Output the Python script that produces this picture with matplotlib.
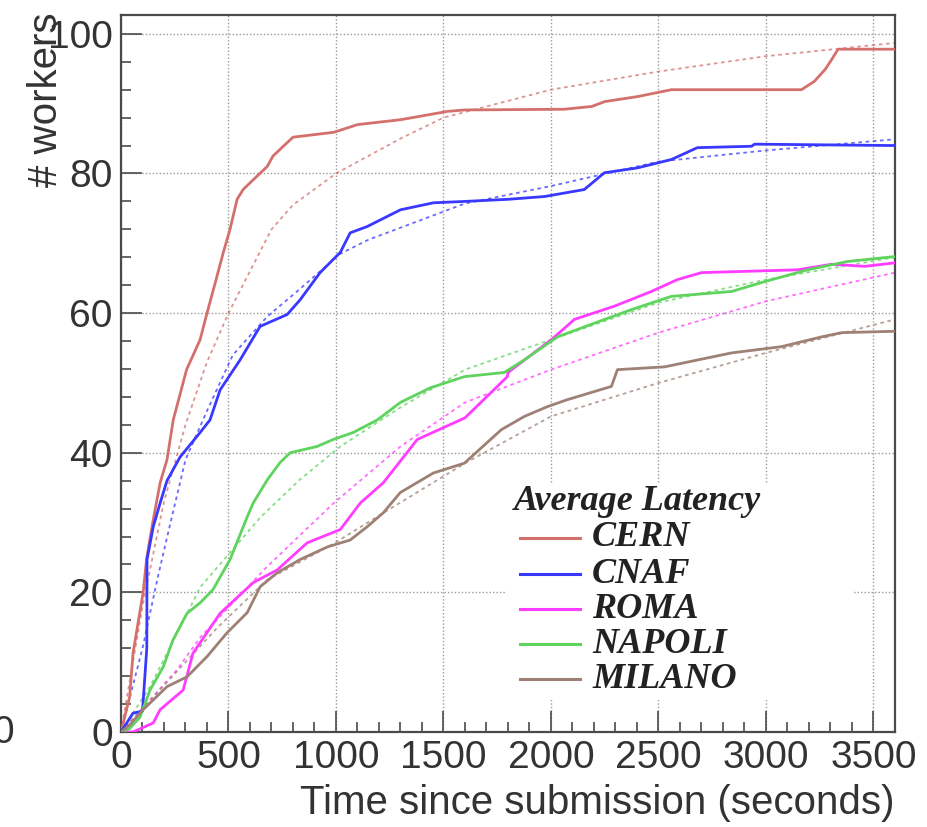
import matplotlib
matplotlib.use('Agg')
import matplotlib.pyplot as plt
from matplotlib.ticker import MultipleLocator, AutoMinorLocator
from matplotlib.lines import Line2D
from matplotlib.patches import Rectangle

# measured curves (time in seconds, number of workers)
cern_t = [0, 40, 56, 103, 120, 150, 182, 214, 243, 305, 368, 400, 430, 476, 507, 540, 568, 615, 680, 707,
          800, 990, 1100, 1300, 1520, 1600, 2060, 2190, 2250, 2400, 2560, 3165, 3225, 3275, 3305, 3335, 3600]
cern_y = [0, 5, 11.3, 20, 25, 30.4, 35.7, 39, 44.7, 51.9, 56.2, 60, 63.4, 68.7, 72, 76.3, 77.7, 79.1, 81, 82.5,
          85.2, 85.9, 87, 87.7, 88.9, 89.1, 89.2, 89.6, 90.3, 91, 92, 92, 93.2, 94.9, 96.3, 97.8, 97.8]

cnaf_t = [0, 56, 100, 120, 121, 150, 182, 214, 275, 368, 414, 461, 554, 647, 773, 833, 926, 1020, 1066, 1145,
          1300, 1453, 1600, 1800, 1970, 2155, 2248, 2402, 2560, 2681, 2933, 2947, 3600]
cnaf_y = [0, 2.7, 3, 12, 24.7, 29.4, 32.8, 36, 39.4, 42.9, 44.7, 49, 53.3, 58.1, 59.8, 61.9, 65.8, 68.7, 71.5, 72.4,
          74.8, 75.8, 76, 76.3, 76.7, 77.7, 80.1, 80.8, 82, 83.7, 83.9, 84.2, 84]

roma_t = [0, 56, 150, 182, 289, 335, 461, 615, 726, 866, 1020, 1113, 1220, 1378, 1600, 1797, 1800, 2002, 2109,
          2295, 2467, 2588, 2700, 3147, 3305, 3459, 3600]
roma_y = [0, 0, 1.3, 3.2, 6, 11.3, 17, 21.4, 23.2, 27.1, 29, 32.8, 35.7, 41.9, 45, 50.9, 51.5, 56.2, 59.1,
          61, 63.1, 64.8, 65.8, 66.2, 67, 66.7, 67.2]

napoli_t = [0, 40, 88, 135, 196, 242, 307, 368, 428, 507, 587, 615, 680, 740, 787, 912, 987, 1080, 1192, 1299,
            1439, 1597, 1783, 1876, 2030, 2188, 2374, 2560, 2840, 2993, 3193, 3380, 3600]
napoli_y = [0, 0.5, 2.1, 6, 9.3, 13.2, 17, 18.5, 20.4, 24.7, 30.8, 32.8, 36.1, 38.6, 40, 40.9, 41.9, 42.9, 44.7, 47.2,
            49.3, 50.9, 51.5, 53.3, 56.6, 58.4, 60.5, 62.4, 63.1, 64.5, 66.2, 67.4, 68.1]

milano_t = [0, 40, 103, 214, 307, 400, 493, 587, 647, 726, 833, 959, 1066, 1145, 1220, 1299, 1453, 1597, 1769,
            1876, 1983, 2076, 2281, 2309, 2528, 2840, 3073, 3259, 3352, 3600]
milano_y = [0, 1, 3.2, 6.5, 7.9, 10.8, 14.2, 17.1, 20.8, 22.8, 24.7, 26.5, 27.5, 29.4, 31.4, 34.3, 37.1, 38.5, 43.3,
            45.2, 46.6, 47.6, 49.5, 51.9, 52.3, 54.3, 55.2, 56.6, 57.2, 57.4]

# fitted curves (dotted)
cern_fit_t = [0, 100, 200, 300, 400, 500, 600, 700, 800, 1000, 1300, 1500, 2000, 2500, 3000, 3600]
cern_fit_y = [0, 18, 33, 44, 53, 60, 66, 72, 75.5, 80, 85, 88, 92, 94.6, 96.8, 98.7]
cnaf_fit_t = [0, 100, 170, 215, 300, 400, 520, 680, 830, 1020, 1150, 1600, 2000, 2500, 3000, 3600]
cnaf_fit_y = [0, 12, 22, 28, 39, 46, 54, 59.5, 63.4, 68.5, 70.5, 75.7, 78.2, 81.7, 83.3, 84.9]
roma_fit_t = [0, 260, 370, 680, 990, 1300, 1600, 2000, 2500, 3000, 3600]
roma_fit_y = [0, 8.9, 13.6, 23.7, 32.8, 40.9, 47.2, 51.9, 57.2, 61.7, 65.8]
napoli_fit_t = [0, 135, 370, 650, 830, 1020, 1300, 1600, 2000, 2500, 3000, 3600]
napoli_fit_y = [0, 6.5, 20.8, 30.8, 36.1, 40.9, 46.5, 51.9, 56.2, 61.5, 64.8, 68]
milano_fit_t = [0, 135, 450, 680, 990, 1200, 1600, 2000, 2500, 3000, 3600]
milano_fit_y = [0, 4.5, 15, 21.8, 27, 31, 38.5, 45.2, 50, 54.3, 59.1]

sites = ['CERN', 'CNAF', 'ROMA', 'NAPOLI', 'MILANO']
colors = ['#d4706c', '#3838ff', '#ff3cff', '#5ed35e', '#9e8074']
curves = [(cern_t, cern_y), (cnaf_t, cnaf_y), (roma_t, roma_y), (napoli_t, napoli_y), (milano_t, milano_y)]
fits = [(cern_fit_t, cern_fit_y), (cnaf_fit_t, cnaf_fit_y), (roma_fit_t, roma_fit_y),
        (napoli_fit_t, napoli_fit_y), (milano_fit_t, milano_fit_y)]

W, H = 928, 827
fig = plt.figure(figsize=(W / 100, H / 100), dpi=100)
ax = fig.add_axes([121 / W, 1 - 732 / H, (895 - 121) / W, (732 - 15) / H])

frame_col = '#4a4a4a'
for s in ax.spines.values():
    s.set_color(frame_col)
    s.set_linewidth(1.6)

ax.set_xlim(0, 3600)
ax.set_ylim(0, 102.7)
ax.xaxis.set_major_locator(MultipleLocator(500))
ax.yaxis.set_major_locator(MultipleLocator(20))
ax.xaxis.set_minor_locator(AutoMinorLocator(5))
ax.yaxis.set_minor_locator(AutoMinorLocator(5))
ax.tick_params(which='both', direction='in', color=frame_col, width=1.2, labelcolor='#333333')
ax.tick_params(which='major', length=15, labelsize=28, pad=6)
ax.tick_params(which='minor', length=7)
for lab in ax.get_xticklabels() + ax.get_yticklabels():
    lab.set_family('Liberation Sans')

ax.grid(True, which='major', color='#9a9a9a', linestyle=(0, (1, 1.5)), linewidth=1)
ax.set_axisbelow(True)

# white box behind the legend hides the grid
ax.add_patch(Rectangle((0.499, 0.045), 0.448, 0.302, transform=ax.transAxes,
                       facecolor='white', edgecolor='none', zorder=1.5))

for (t, y), (ft, fy), c in zip(curves, fits, colors):
    ax.plot(ft, fy, color=c, lw=1.3, linestyle=(0, (2, 2)), alpha=0.75, zorder=2)
    ax.plot(t, y, color=c, lw=2.0, zorder=3)

ax.set_xlabel('Time since submission (seconds)', family='Liberation Sans', fontsize=29,
              color='#333333', loc='right')
ax.xaxis.set_label_coords(1.0, -0.072)
ax.set_ylabel('# workers', family='Liberation Sans', fontsize=29, color='#333333', loc='top')
ax.yaxis.set_label_coords(-0.072, 1.004)

# legend drawn by hand, ROOT style
leg_font = dict(family='Liberation Serif', weight='bold', style='italic', fontsize=26, color='#222222')
fig.text(514 / W, 1 - 510 / H, 'Average Latency', va='baseline', ha='left', **leg_font)
row_base = [546, 583, 618, 653, 688]
row_line = [538, 574, 609, 644, 679]
for name, c, yb, yl in zip(sites, colors, row_base, row_line):
    fig.add_artist(Line2D([520 / W, 580 / W], [1 - yl / H, 1 - yl / H], color=c, lw=2.2))
    fig.text(592 / W, 1 - yb / H, name, va='baseline', ha='left', **leg_font)

# stray, cut-off tick label at the left edge of the image
fig.text(-8 / W, 1 - 733 / H, '0', va='center', ha='left', family='Liberation Sans',
         fontsize=28, color='#333333')

fig.savefig('out.png', dpi=100)
